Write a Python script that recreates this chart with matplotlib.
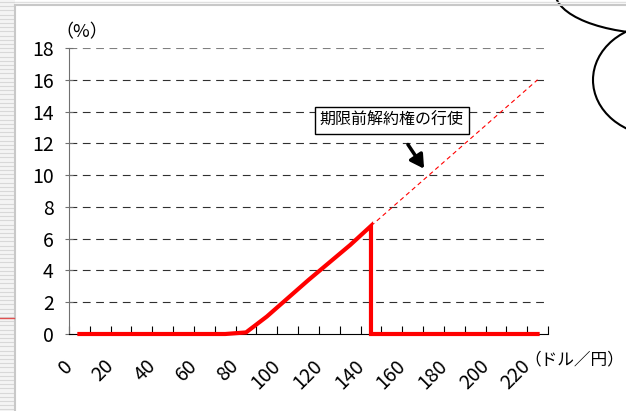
import numpy as np
import matplotlib
matplotlib.use("Agg")
import matplotlib.pyplot as plt
from matplotlib.patches import Rectangle, Ellipse
from matplotlib.transforms import ScaledTranslation

plt.rcParams['font.family'] = ['Noto Sans CJK JP', 'DejaVu Sans']

# 為替レート (ドル/円) カテゴリ
rates = list(range(0, 230, 10))
# 期限前解約権の行使まで (0〜140円)
payoff_before = [0, 0, 0, 0, 0, 0, 0, 0, 0.1, 1.1, 2.25, 3.4, 4.5, 5.6, 6.8]
# 行使後 (140〜220円)
payoff_after = [0, 0, 0, 0, 0, 0, 0, 0, 0]
# 行使しなかった場合 (点線)
forward_rates = [140, 220]
forward_values = [6.8, 16.0]
xtick_labels = [str(r) for r in range(0, 240, 20)]
ytick_values = list(range(0, 20, 2))

W, H = 626, 411
fig = plt.figure(figsize=(W / 100, H / 100), dpi=100)

# 背景 (スライドの枠など)
bg = fig.add_axes([0, 0, 1, 1])
bg.set_xlim(0, W)
bg.set_ylim(H, 0)
bg.axis("off")
bg.add_patch(Rectangle((0, 0), 15, H, color="#f4f4f4", lw=0))
for yy in np.arange(2, H, 4.2):
    bg.plot([0, 14], [yy, yy], color="#d8d8d8", lw=0.8)
bg.plot([15, 15], [6, H], color="#c8c8c8", lw=1.5)
bg.plot([15, W], [5, 5], color="#c8c8c8", lw=1.5)
bg.plot([15, W], [2, 2], color="#e0e0e0", lw=1)
bg.plot([0, 14], [318, 318], color="#e05050", lw=1)
bg.add_patch(Ellipse((660, -8), 210, 84, fill=False, ec="black", lw=1.5))
bg.add_patch(Ellipse((660, 80), 134, 112, fill=False, ec="black", lw=1.5))

ax = fig.add_axes([69 / W, 1 - 334 / H, (548 - 69) / W, (334 - 48) / H])
ax.set_xlim(-0.5, len(rates) - 0.5)
ax.set_ylim(0, 18)

idx = {r: i for i, r in enumerate(rates)}
x_main = [idx[r] for r in rates[:15]] + [idx[r] for r in rates[14:]]
y_main = payoff_before + payoff_after
ax.plot([idx[r] for r in forward_rates], forward_values, color="red", lw=0.8,
        dashes=(4, 3), zorder=3)
ax.plot(x_main, y_main, color="red", lw=3, clip_on=False, zorder=4,
        solid_joinstyle="miter")

for v in ytick_values[1:]:
    ax.axhline(v, color="#808080" if v == 18 else "#303030", lw=0.8, dashes=(7, 5), zorder=1)

for s in ["top", "right"]:
    ax.spines[s].set_visible(False)
ax.spines["left"].set_color("#707070")
ax.spines["bottom"].set_color("black")

ax.set_yticks(ytick_values)
ax.set_yticklabels([str(v) for v in ytick_values], fontsize=14)
ax.tick_params(axis="y", direction="inout", length=6, color="#707070", pad=8)

# x軸: 目盛りはカテゴリ境界、ラベルは2つおき
ax.set_xticks(np.arange(-0.5, len(rates), 1))
ax.set_xticklabels([])
ax.tick_params(axis="x", direction="in", length=6, color="black")
shift = ScaledTranslation(-10 / 100, -29 / 100, fig.dpi_scale_trans)
for i, lab in enumerate(xtick_labels):
    ax.text(idx[int(lab)], 0, lab, fontsize=14, rotation=45, ha="right", va="center",
            rotation_mode="anchor", transform=ax.get_xaxis_transform() + shift)

fig.text(55 / W, 1 - 32 / H, "（%）", fontsize=13, va="center", ha="left")
fig.text(624 / W, 1 - 360 / H, "（ドル／円）", fontsize=12, va="center", ha="right")

ax.annotate("期限前解約権の行使", xy=(16.55, 10.4), xytext=(15.0, 13.45),
            fontsize=11.5, ha="center", va="center",
            bbox=dict(boxstyle="square,pad=0.3", fc="white", ec="black", lw=1),
            arrowprops=dict(arrowstyle="-|>,head_width=0.4,head_length=0.7",
                            color="black", lw=2.5, shrinkA=9, shrinkB=0))

fig.savefig("out.png", dpi=100)
